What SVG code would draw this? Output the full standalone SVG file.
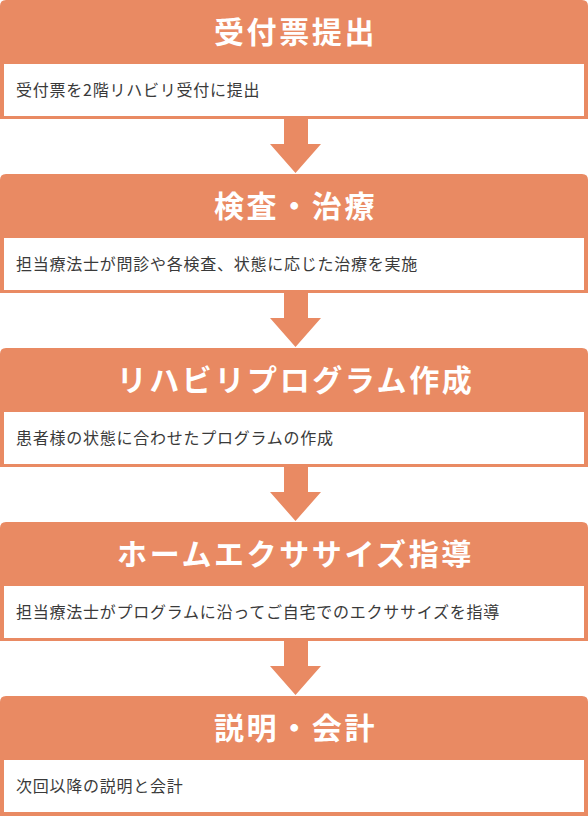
<svg xmlns="http://www.w3.org/2000/svg" width="588" height="816" viewBox="0 0 588 816">
<defs>
<style>
.box{fill:#E98A63}
.body{fill:#ffffff}
.title{font-family:"Noto Sans CJK JP","Noto Sans",sans-serif;font-weight:bold;font-size:30px;letter-spacing:2.6px;fill:#ffffff;text-anchor:middle}
.desc{font-family:"Noto Sans CJK JP","Noto Sans",sans-serif;font-size:16px;letter-spacing:0.75px;fill:#3a3a3a}
.arrow{fill:#E98A63}
</style>
</defs>
<rect width="588" height="816" fill="#ffffff"/>
<g id="step1">
<path class="box" d="M0,6 Q0,0 6,0 L582,0 Q588,0 588,6 L588,119 L0,119 Z"/>
<rect class="body" x="4" y="64" width="580" height="52"/>
<text class="title" x="295.5" y="43">受付票提出</text>
<text class="desc" x="16" y="96">受付票を2階リハビリ受付に提出</text>
</g>
<g id="step2" transform="translate(0,174)">
<path class="box" d="M0,6 Q0,0 6,0 L582,0 Q588,0 588,6 L588,119 L0,119 Z"/>
<rect class="body" x="4" y="64" width="580" height="52"/>
<text class="title" x="295.5" y="43">検査・治療</text>
<text class="desc" x="16" y="96">担当療法士が問診や各検査、状態に応じた治療を実施</text>
</g>
<g id="step3" transform="translate(0,348)">
<path class="box" d="M0,6 Q0,0 6,0 L582,0 Q588,0 588,6 L588,119 L0,119 Z"/>
<rect class="body" x="4" y="64" width="580" height="52"/>
<text class="title" x="295.5" y="43">リハビリプログラム作成</text>
<text class="desc" x="16" y="96">患者様の状態に合わせたプログラムの作成</text>
</g>
<g id="step4" transform="translate(0,522)">
<path class="box" d="M0,6 Q0,0 6,0 L582,0 Q588,0 588,6 L588,119 L0,119 Z"/>
<rect class="body" x="4" y="64" width="580" height="52"/>
<text class="title" x="295.5" y="43">ホームエクササイズ指導</text>
<text class="desc" x="16" y="96">担当療法士がプログラムに沿ってご自宅でのエクササイズを指導</text>
</g>
<g id="step5" transform="translate(0,696)">
<path class="box" d="M0,6 Q0,0 6,0 L582,0 Q588,0 588,6 L588,120 L0,120 Z"/>
<rect class="body" x="4" y="64" width="580" height="52"/>
<text class="title" x="295.5" y="43">説明・会計</text>
<text class="desc" x="16" y="96">次回以降の説明と会計</text>
</g>
<g id="connectors">
<path class="arrow" d="M284,119 H308 V144 H321 L295.5,173 L270,144 H284 Z"/>
<path class="arrow" d="M284,293 H308 V318 H321 L295.5,347 L270,318 H284 Z"/>
<path class="arrow" d="M284,467 H308 V492 H321 L295.5,521 L270,492 H284 Z"/>
<path class="arrow" d="M284,641 H308 V666 H321 L295.5,695 L270,666 H284 Z"/>
</g>
</svg>
